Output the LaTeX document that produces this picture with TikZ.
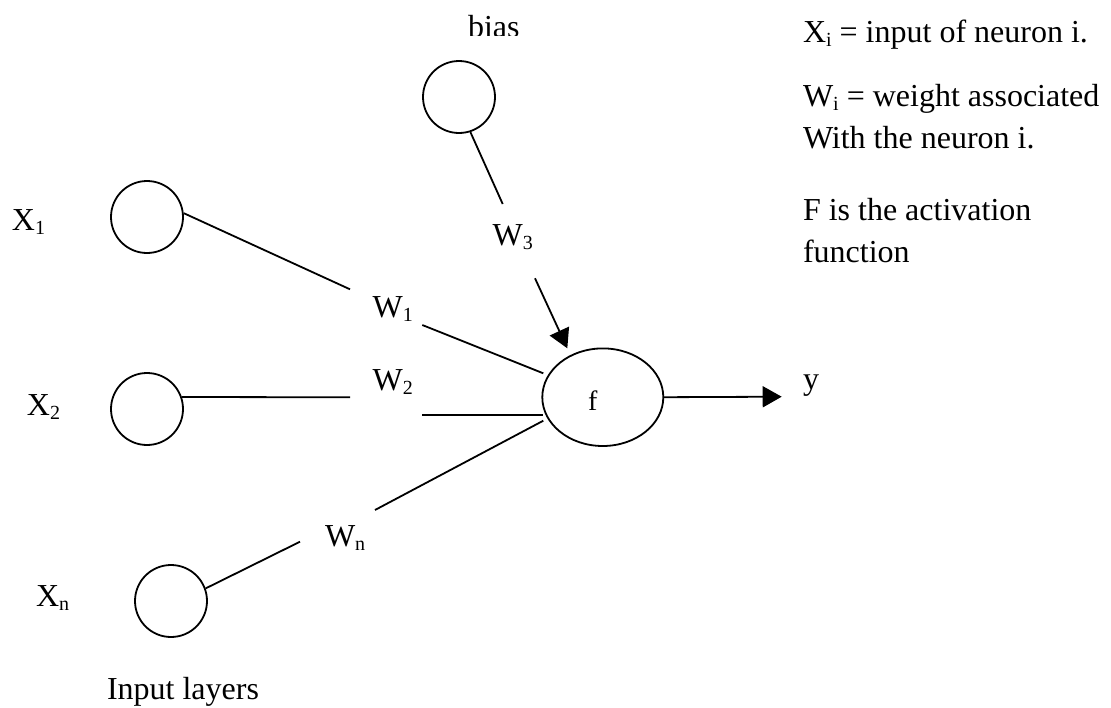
\documentclass[tikz,border=0pt]{standalone}
\usepackage{fontspec}
\setmainfont{Liberation Serif}
\usetikzlibrary{arrows.meta,shapes.geometric}
\newcommand{\lowidx}[1]{\raisebox{-4pt}{\fontsize{20}{20}\selectfont #1}}
\begin{document}
\begin{tikzpicture}[x=1pt,y=-1pt,
  lbl/.style={anchor=base west,inner sep=0pt,outer sep=0pt,font=\fontsize{32}{38}\selectfont},
  neuron/.style={circle,draw,line width=1.8pt,minimum size=72pt,inner sep=0pt},
  conn/.style={line width=1.8pt},
  tri/.style={line width=1.8pt,-{Triangle[length=19pt,width=21pt]}}]
\useasboundingbox (0,0) rectangle (1111,707);
% neurons
\node[neuron] (bias) at (459,97) {};
\node[neuron] (x1) at (147,217) {};
\node[neuron] (x2) at (147,409) {};
\node[neuron] (xn) at (171,601) {};
\node[ellipse,draw,line width=1.8pt,minimum width=121pt,minimum height=97.6pt,inner sep=0pt] (f) at (602.8,397.2) {};
\node[lbl,font=\fontsize{28}{32}\selectfont] (flbl) at (588,410.7) {f};
% labels
\begin{scope}
\clip (400,0) rectangle (560,35);
\node[lbl] (biaslbl) at (468,37) {bias};
\end{scope}
\node[lbl] (x1lbl) at (12,230) {X\lowidx{1}};
\node[lbl] (x2lbl) at (27,415) {X\lowidx{2}};
\node[lbl] (xnlbl) at (36,606.7) {X\lowidx{n}};
\node[lbl] (w1lbl) at (372.7,317.3) {W\lowidx{1}};
\node[lbl] (w2lbl) at (372.7,390.7) {W\lowidx{2}};
\node[lbl] (w3lbl) at (492.7,245) {W\lowidx{3}};
\node[lbl] (wnlbl) at (325,546.7) {W\lowidx{n}};
\node[lbl] (ylbl) at (803,389.5) {y};
\node[lbl] (inlbl) at (107,699.5) {Input layers};
\node[lbl] (t1) at (803,42) {X\lowidx{i} = input of neuron i.};
\node[lbl] (t2) at (803,106) {W\lowidx{i} = weight associated};
\node[lbl] (t3) at (803,148) {With the neuron i.};
\node[lbl] (t4) at (803,220) {F is the activation};
\node[lbl] (t5) at (803,262) {function};
% coordinates
\coordinate (w1a) at (350,289.3);
\coordinate (w1b) at (422.3,325);
\coordinate (f1) at (543.3,373.3);
\coordinate (w2a) at (350,397.3);
\coordinate (w2b) at (422.3,415);
\coordinate (f2) at (543,415);
\coordinate (wna) at (300,541.7);
\coordinate (wnb) at (375,510);
\coordinate (fn) at (543.3,420.7);
\coordinate (w3a) at (502.7,204);
\coordinate (w3b) at (535,278.3);
\coordinate (w3tip) at (567.3,348.3);
\coordinate (ytip) at (781.7,396.7);
% connectors
\draw[conn] (x1.6) -- (w1a);
\draw[conn] (w1b) -- (f1);
\draw[conn] (x2.19) -- (w2a);
\draw[conn] (w2b) -- (f2);
\draw[conn] (xn.20) -- (wna);
\draw[conn] (wnb) -- (fn);
\draw[conn] (bias.-72) -- (w3a);
\draw[tri] (w3b) -- (w3tip);
\draw[tri] (f.east) -- (ytip);
\end{tikzpicture}
\end{document}
